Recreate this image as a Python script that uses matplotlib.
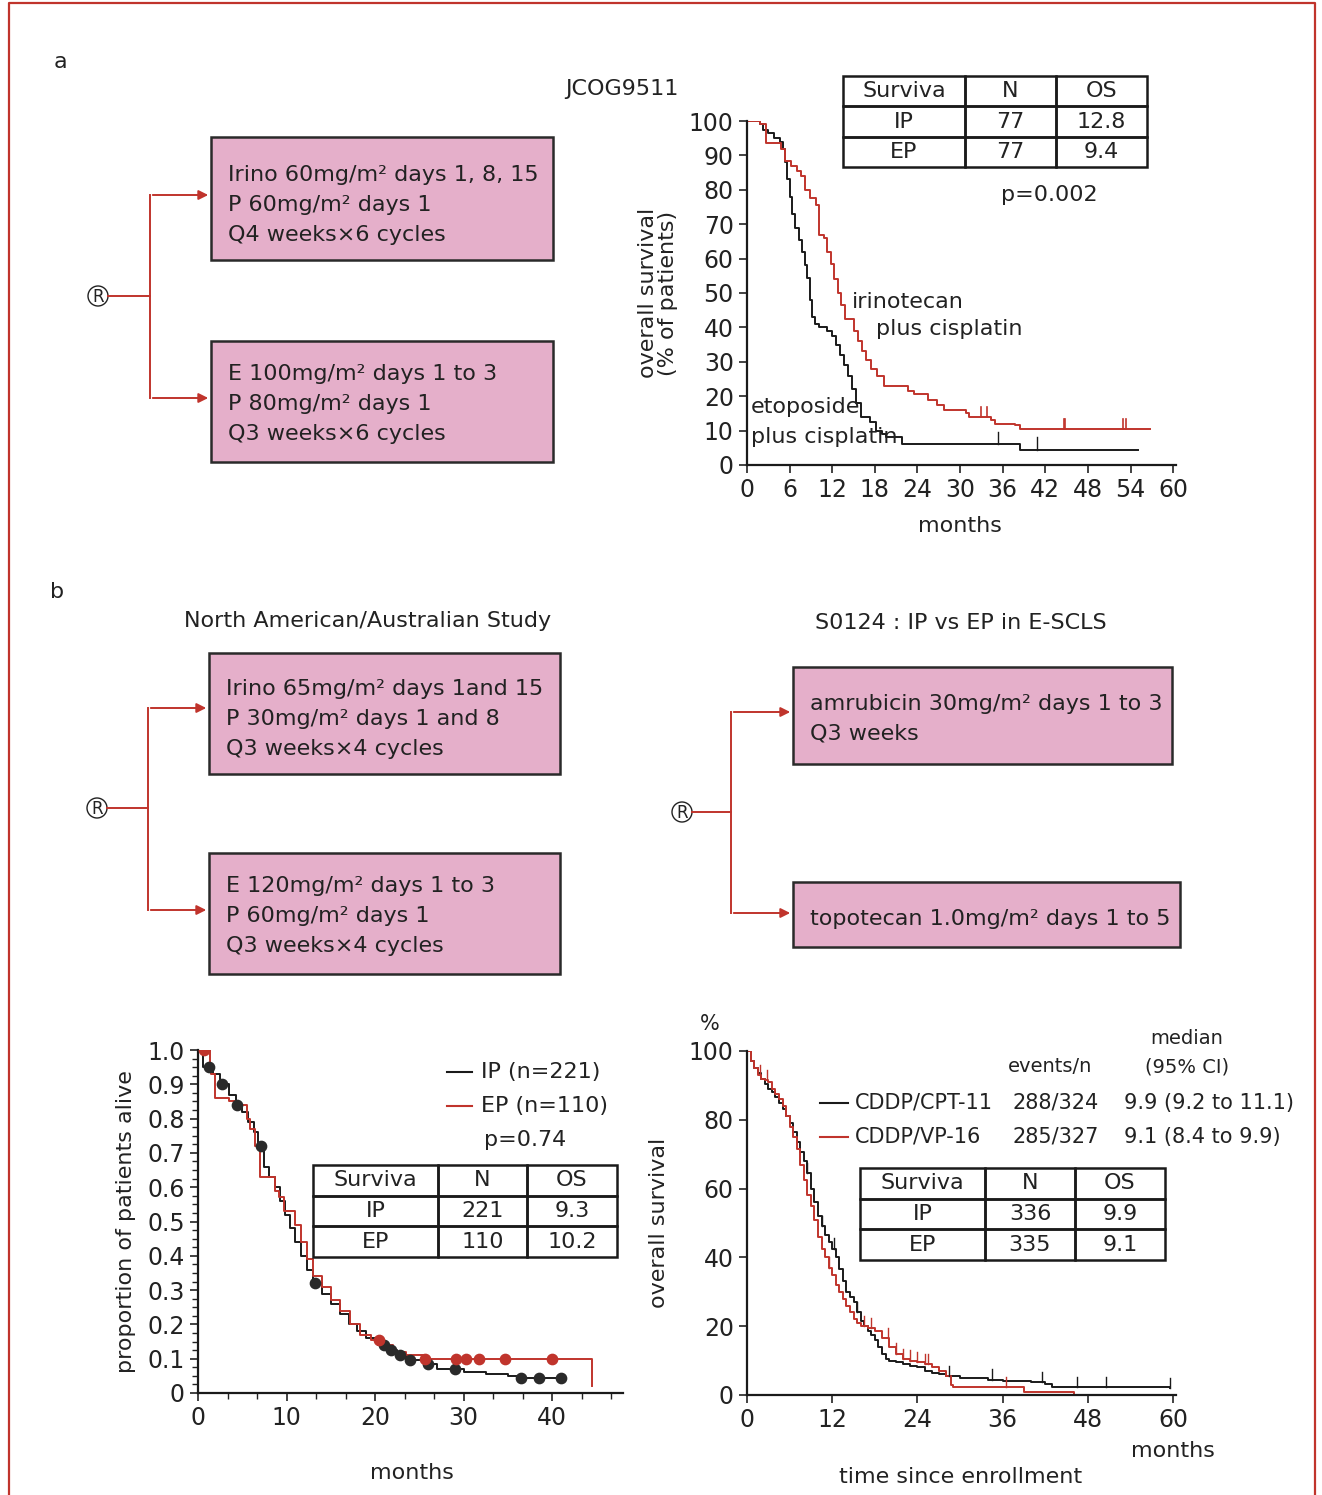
import numpy as np
import matplotlib
matplotlib.use("Agg")
import matplotlib.pyplot as plt
from matplotlib.patches import Rectangle, Circle, FancyArrowPatch
from matplotlib.lines import Line2D

plt.rcParams['font.family'] = ['DejaVu Sans']

W, H = 1322, 1495
RED = '#c0342c'
INK = '#222222'
PINK = '#e5afca'

# ---- panel a : JCOG9511 (months, % alive) ----
a_ip_t = [0, 1.9, 2.7, 4.8, 5.3, 6.2, 7.0, 7.6, 8.2, 8.9, 9.7, 10.2, 10.8, 11.3, 11.8,
          12.3, 12.8, 13.3, 13.8, 15.1, 15.6, 16.2, 16.8, 17.5, 18.3, 19.3, 22.6, 23.5,
          25.5, 26.7, 27.8, 30.8, 31.3, 34.3, 34.9, 37.7, 38.4, 56.8]
a_ip_s = [100, 99, 93.5, 92, 88.5, 87, 85.5, 84, 80, 77.5, 75.5, 67, 66, 62, 58.5,
          54, 50, 46.5, 42.5, 39, 36, 33, 30.5, 28, 26, 23, 21.5, 20.5,
          19, 17.5, 16, 15, 14, 13, 12, 11.5, 10.5, 10.5]
a_ep_t = [0, 1.8, 2.3, 3.0, 3.8, 4.6, 5.0, 5.3, 5.6, 6.0, 6.4, 6.8, 7.3, 7.7, 8.1,
          8.5, 8.9, 9.2, 9.6, 10.2, 11.3, 12.0, 12.6, 13.1, 13.6, 14.2, 14.8, 15.3,
          16.1, 17.3, 18.2, 19.0, 19.6, 21.8, 38.5, 55.0]
a_ep_s = [100, 99, 97.5, 96.5, 95, 94, 92, 88, 83, 78, 73, 69, 65.5, 62, 58,
          54.5, 48, 43, 41, 40, 39, 37.5, 35, 32, 29, 26, 22, 18,
          14, 12.5, 10, 9, 8, 6, 4.5, 4.5]
a_ip_cens = [33.0, 33.8, 44.6, 44.8, 53.0, 53.4]
a_ep_cens = [35.4, 40.8]
a_table = [['Surviva', 'N', 'OS'], ['IP', '77', '12.8'], ['EP', '77', '9.4']]

# ---- panel b left : North American/Australian (months, proportion) ----
bl_ip_t = [0, 0.6, 1.2, 1.7, 2.5, 3.5, 4.3, 5.0, 5.6, 6.3, 6.8, 7.5, 8.0, 8.7, 9.3,
           9.8, 10.4, 11.0, 11.6, 12.3, 13.0, 14.0, 15.0, 16.0, 17.0, 18.0, 19.0,
           20.3, 21.5, 22.5, 23.5, 25.5, 27.0, 30.0, 32.5, 35.0, 36.4, 41.0]
bl_ip_s = [1.0, 0.95, 0.95, 0.93, 0.90, 0.87, 0.84, 0.82, 0.79, 0.76, 0.72, 0.66, 0.63,
           0.60, 0.56, 0.52, 0.48, 0.44, 0.40, 0.36, 0.32, 0.29, 0.26, 0.23, 0.20, 0.18,
           0.16, 0.14, 0.125, 0.11, 0.095, 0.085, 0.07, 0.06, 0.055, 0.05, 0.043, 0.043]
bl_ep_t = [0, 0.7, 1.3, 1.5, 1.9, 3.2, 3.5, 4.5, 5.5, 5.9, 6.4, 7.0, 8.0, 8.7, 9.2,
           9.7, 10.5, 11.0, 11.6, 12.3, 13.0, 14.0, 15.0, 16.0, 17.2, 18.3, 19.5, 20.8,
           22.0, 23.5, 25.5, 44.5]
bl_ep_s = [1.0, 1.0, 0.96, 0.93, 0.86, 0.86, 0.85, 0.84, 0.80, 0.77, 0.72, 0.63, 0.63,
           0.59, 0.57, 0.53, 0.53, 0.49, 0.44, 0.39, 0.34, 0.31, 0.27, 0.24, 0.20, 0.17,
           0.155, 0.14, 0.12, 0.11, 0.10, 0.02]
bl_ip_dots = [1.2, 2.7, 4.4, 7.1, 13.2, 21.0, 21.8, 22.8, 23.9, 26.0, 29.0, 36.5, 38.5, 41.0]
bl_ep_dots = [0.7, 20.4, 25.6, 29.1, 30.3, 31.7, 34.7, 40.0]
bl_table = [['Surviva', 'N', 'OS'], ['IP', '221', '9.3'], ['EP', '110', '10.2']]

# ---- panel b right : CDDP/CPT-11 vs CDDP/VP-16 (months, %) ----
br_ip_t = [0, 0.5, 1, 1.5, 2, 2.5, 3, 3.5, 4, 4.5, 5, 5.5, 6, 6.5, 7, 7.5, 8, 8.5, 9,
           9.5, 10, 10.5, 11, 11.5, 12, 12.5, 13, 13.5, 14, 14.5, 15, 15.5, 16, 16.5,
           17, 17.5, 18, 18.5, 19, 19.5, 20, 21, 22, 23, 24, 25, 26, 27, 28, 30, 32,
           34, 36, 38, 40, 42, 43, 59.5]
br_ip_s = [100, 97, 95, 93.5, 92, 90.5, 89, 88, 86.5, 85, 83, 81, 79, 76.5, 73.5, 70.5,
           68, 64.5, 60, 56, 52, 49, 46.5, 44.5, 42.5, 40, 36.5, 33, 30, 28.5, 27, 24,
           21.5, 20, 18.5, 17.5, 16, 14, 12, 10.5, 10, 9.5, 9, 8.5, 8, 7, 6.5, 6, 5.5,
           5, 4.8, 4.5, 4.2, 4, 3.7, 3.2, 2.2, 2]
br_ep_t = [0, 0.5, 1, 1.5, 2, 2.5, 3, 3.5, 4, 4.5, 5, 5.5, 6, 6.5, 7, 7.5, 8, 8.5, 9,
           9.5, 10, 10.5, 11, 11.5, 12, 12.5, 13, 13.5, 14, 14.5, 15, 15.5, 16, 17, 18,
           19, 20, 21, 22, 23, 24, 25, 26, 27, 28, 28.7, 29, 39, 46]
br_ep_s = [100, 97, 95, 93, 92, 91.5, 91, 89, 87.5, 86, 84, 81, 78, 75, 71.5, 67, 62.5,
           58, 55, 51, 46, 42.5, 40, 37, 35, 32, 30, 28, 26, 24, 22, 21, 20, 19.5, 18.5,
           16.5, 14, 12, 10.5, 10, 9.5, 9, 8, 7, 5.5, 3, 2.2, 1, 0]
br_ip_cens = [8.5, 10.5, 12.2, 15.5, 28.5, 34.5, 41.5, 46.5, 50.5, 59.5]
br_ep_cens = [1.8, 2.8, 11.5, 16.5, 17.5, 19.8, 21.0, 22.0, 23.0, 24.0, 25.0, 25.5, 36.5]
br_legend = [['CDDP/CPT-11', '288/324', '9.9 (9.2 to 11.1)'],
             ['CDDP/VP-16', '285/327', '9.1 (8.4 to 9.9)']]
br_table = [['Surviva', 'N', 'OS'], ['IP', '336', '9.9'], ['EP', '335', '9.1']]

# ---- schemas ----
a_boxes = [['Irino 60mg/m² days 1, 8, 15', 'P 60mg/m² days 1', 'Q4 weeks×6 cycles'],
           ['E 100mg/m² days 1 to 3', 'P 80mg/m² days 1', 'Q3 weeks×6 cycles']]
bl_boxes = [['Irino 65mg/m² days 1and 15', 'P 30mg/m² days 1 and 8', 'Q3 weeks×4 cycles'],
            ['E 120mg/m² days 1 to 3', 'P 60mg/m² days 1', 'Q3 weeks×4 cycles']]
br_boxes = [['amrubicin 30mg/m² days 1 to 3', 'Q3 weeks'],
            ['topotecan 1.0mg/m² days 1 to 5']]


fig = plt.figure(figsize=(W / 100, H / 100), dpi=100)
fig.patch.set_facecolor('white')


def fx(x):
    return x / W


def fy(y):
    return 1 - y / H


def px_axes(x0, y0, x1, y1):
    return fig.add_axes([fx(x0), fy(y1), (x1 - x0) / W, (y1 - y0) / H])


def ftext(x, y, s, **kw):
    kw.setdefault('color', INK)
    kw.setdefault('fontsize', 15)
    fig.text(fx(x), fy(y), s, **kw)


def fline(xs, ys, **kw):
    fig.add_artist(Line2D([fx(v) for v in xs], [fy(v) for v in ys],
                          transform=fig.transFigure, **kw))


def box(x0, y0, x1, y1, lines, tx, ty, dy):
    fig.add_artist(Rectangle((fx(x0), fy(y1)), (x1 - x0) / W, (y1 - y0) / H,
                             transform=fig.transFigure, facecolor=PINK,
                             edgecolor='#2a2a2a', lw=1.8))
    for i, s in enumerate(lines):
        ftext(tx, ty + i * dy, s, fontsize=16, va='center', ha='left')


def randomizer(rx, ry, bx, ytop, ybot, xend):
    # circle in pixel units: use an ellipse-safe radius via axes-free transform
    fig.add_artist(Circle((rx, H - ry), 10, transform=None,
                          facecolor='white', edgecolor=INK, lw=1.0))
    ftext(rx, ry + 1, 'R', fontsize=12, ha='center', va='center')
    fline([rx + 10, bx], [ry, ry], color=RED, lw=1.4)
    fline([bx, bx], [ytop, ybot], color=RED, lw=1.4)
    for yy in (ytop, ybot):
        fig.add_artist(FancyArrowPatch((fx(bx), fy(yy)), (fx(xend), fy(yy)),
                                       transform=fig.transFigure, arrowstyle='-|>',
                                       mutation_scale=14, color=RED, lw=1.4))


def surv_at(t, s, x):
    i = np.searchsorted(t, x, side='right') - 1
    return np.asarray(s)[i]


def table(x0, y0, x1, y1, cells, widths):
    tax = px_axes(x0, y0, x1, y1)
    tax.axis('off')
    tb = tax.table(cellText=cells, cellLoc='center', colWidths=widths, bbox=[0, 0, 1, 1])
    tb.auto_set_font_size(False)
    for (r, c), cell in tb.get_celld().items():
        cell.set_linewidth(1.8)
        cell.set_edgecolor('#1a1a1a')
        cell.set_facecolor('none')
        cell.get_text().set_fontsize(16)
        cell.get_text().set_color(INK)


def style(ax):
    for sp in ('top', 'right'):
        ax.spines[sp].set_visible(False)
    for sp in ('left', 'bottom'):
        ax.spines[sp].set_linewidth(1.6)
        ax.spines[sp].set_color('#1a1a1a')
    ax.set_facecolor('none')
    ax.tick_params(labelsize=17, colors=INK, width=1.2, length=6, direction='out')


# frame
fline([9, 9, 1315, 1315], [H, 3, 3, H], color=RED, lw=1.6)
ftext(60, 62, 'a', fontsize=16, ha='center', va='center')
ftext(57, 592, 'b', fontsize=16, ha='center', va='center')

# ---- panel a schema ----
box(211, 137, 553, 260, a_boxes[0], 228, 175, 30)
box(211, 341, 553, 462, a_boxes[1], 228, 374, 30)
randomizer(98, 296, 150, 195, 398, 211)

# ---- panel a KM ----
ax = px_axes(747, 121, 1176, 465)
style(ax)
ax.step(a_ep_t, a_ep_s, where='post', color='#1a1a1a', lw=1.4)
ax.step(a_ip_t, a_ip_s, where='post', color=RED, lw=1.4)
for c in a_ip_cens:
    v = surv_at(a_ip_t, a_ip_s, c)
    ax.plot([c, c], [v, v + 3], color=RED, lw=1.2)
for c in a_ep_cens:
    v = surv_at(a_ep_t, a_ep_s, c)
    ax.plot([c, c], [v, v + 3.5], color='#1a1a1a', lw=1.0)
ax.set_xlim(0, 60.4)
ax.set_ylim(0, 100)
ax.set_xticks(range(0, 61, 6))
ax.set_yticks(range(0, 101, 10))
ax.set_ylabel('overall survival\n(% of patients)', fontsize=16, color=INK, labelpad=8,
              linespacing=1.0)
ax.text(0.5, 17, 'etoposide', fontsize=16, color=INK, va='center')
ax.text(0.5, 8, 'plus cisplatin', fontsize=16, color=INK, va='center')
ax.text(14.8, 47.5, 'irinotecan', fontsize=16, color=INK, va='center')
ax.text(18.2, 39.5, 'plus cisplatin', fontsize=16, color=INK, va='center')
ax.text(42.5, 78.5, 'p=0.002', fontsize=16, color=INK, ha='center', va='center')
ftext(960, 526, 'months', fontsize=16, ha='center', va='center')
ftext(622, 89, 'JCOG9511', fontsize=16, ha='center', va='center')
table(843, 76, 1147, 167, a_table, [122, 91, 91])

# ---- panel b left schema ----
ftext(368, 621, 'North American/Australian Study', fontsize=16, ha='center', va='center')
box(209, 653, 560, 774, bl_boxes[0], 226, 689, 30)
box(209, 853, 560, 974, bl_boxes[1], 226, 886, 30)
randomizer(97, 808, 148, 708, 910, 209)

# ---- panel b right schema ----
ftext(961, 623, 'S0124 : IP vs EP in E-SCLS', fontsize=16, ha='center', va='center')
box(793, 667, 1172, 764, br_boxes[0], 810, 704, 29)
box(793, 882, 1180, 947, br_boxes[1], 810, 919, 29)
randomizer(682, 812, 731, 712, 913, 793)

# ---- panel b left KM ----
ax = px_axes(198, 1050, 623, 1393)
style(ax)
ax.step(bl_ip_t, bl_ip_s, where='post', color='#1a1a1a', lw=1.4)
ax.step(bl_ep_t, bl_ep_s, where='post', color=RED, lw=1.4)
ax.scatter(bl_ip_dots, [surv_at(bl_ip_t, bl_ip_s, d) for d in bl_ip_dots], s=55,
           color='#2a2a2a', zorder=4)
ax.scatter(bl_ep_dots, [surv_at(bl_ep_t, bl_ep_s, d) for d in bl_ep_dots], s=55,
           color=RED, zorder=4)
ax.set_xlim(0, 48)
ax.set_ylim(0, 1.0)
ax.set_xticks(range(0, 41, 10))
ax.set_xticks(np.arange(0, 47.5, 10 / 3), minor=True)
ax.set_yticks(np.arange(0, 1.01, 0.1))
ax.set_yticks(np.arange(0, 1.0, 0.025), minor=True)
ax.set_yticklabels(['0'] + ['%.1f' % v for v in np.arange(0.1, 1.01, 0.1)])
ax.tick_params(which='minor', length=4, width=1.0, colors=INK)
ax.set_ylabel('proportion of patients alive', fontsize=16, color=INK, labelpad=8)
ftext(412, 1473, 'months', fontsize=16, ha='center', va='center')
fline([447, 472], [1072, 1072], color='#1a1a1a', lw=1.5)
fline([447, 472], [1106, 1106], color=RED, lw=1.5)
ftext(481, 1072, 'IP (n=221)', fontsize=16, va='center')
ftext(481, 1106, 'EP (n=110)', fontsize=16, va='center')
ftext(484, 1140, 'p=0.74', fontsize=16, va='center')
table(313, 1165, 617, 1257, bl_table, [125, 89, 90])

# ---- panel b right KM ----
ax = px_axes(747, 1051, 1176, 1395)
style(ax)
ax.step(br_ip_t, br_ip_s, where='post', color='#1a1a1a', lw=1.4)
ax.step(br_ep_t, br_ep_s, where='post', color=RED, lw=1.4)
for c in br_ip_cens:
    v = surv_at(br_ip_t, br_ip_s, c)
    ax.plot([c, c], [v, v + 3], color='#1a1a1a', lw=1.0)
for c in br_ep_cens:
    v = surv_at(br_ep_t, br_ep_s, c)
    ax.plot([c, c], [v, v + 3], color=RED, lw=1.0)
ax.set_xlim(0, 60.4)
ax.set_ylim(0, 100)
ax.set_xticks(range(0, 61, 12))
ax.set_yticks(range(0, 101, 20))
ax.set_ylabel('overall survival', fontsize=16, color=INK, labelpad=14)
ftext(961, 1477, 'time since enrollment', fontsize=16, ha='center', va='center')
ftext(710, 1024, '%', fontsize=15, ha='center', va='center')
ftext(1173, 1451, 'months', fontsize=16, ha='center', va='center')
ftext(1187, 1038, 'median', fontsize=14, ha='center', va='center')
ftext(1050, 1067, 'events/n', fontsize=14, ha='center', va='center')
ftext(1187, 1067, '(95% CI)', fontsize=14, ha='center', va='center')
for i, (row, col) in enumerate(zip(br_legend, ['#1a1a1a', RED])):
    yy = 1103 + i * 34
    fline([820, 848], [yy, yy], color=col, lw=1.5)
    ftext(855, yy, row[0], fontsize=15, va='center')
    ftext(1012, yy, row[1], fontsize=15, va='center')
    ftext(1124, yy, row[2], fontsize=15, va='center')
table(860, 1168, 1165, 1260, br_table, [125, 90, 90])

fig.savefig('out.png', dpi=100)
